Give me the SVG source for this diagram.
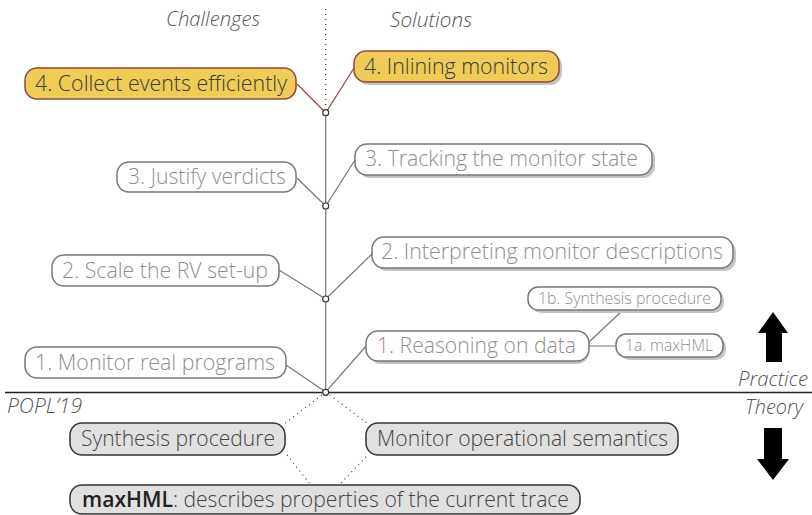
<svg xmlns="http://www.w3.org/2000/svg" width="812" height="515" viewBox="0 0 812 515">
<defs>
<style>
text{font-family:"Open Sans","DejaVu Sans",sans-serif;font-weight:300}
.hd{font-size:20px;font-style:italic;fill:#555}
.yb{fill:#eecc55;stroke:#8b4a3c;stroke-width:1.5}
.yt{font-size:22px;fill:#3a3a3a}
.gb{fill:#fff;stroke:#777;stroke-width:1.5}
.gt{font-size:22px;fill:#8f8f8f}
.st{font-size:16px;fill:#8f8f8f}
.bb{fill:#e0e0e0;stroke:#333;stroke-width:1.5}
.bt{font-size:22px;fill:#444}
.sh{fill:#c4c4c4}
.ln{stroke:#777;stroke-width:1.2;fill:none}
.br{stroke:#8b4a3c;stroke-width:1.2;fill:none}
.dt{stroke:#444;stroke-width:1.3;fill:none;stroke-dasharray:1 4}
.nd{fill:#fff;stroke:#333;stroke-width:1.2}
</style>
</defs>
<text class="hd" x="166" y="26" textLength="94" lengthAdjust="spacingAndGlyphs">Challenges</text>
<text class="hd" x="390" y="27" textLength="82" lengthAdjust="spacingAndGlyphs">Solutions</text>
<text class="hd" x="7" y="413" textLength="75" lengthAdjust="spacingAndGlyphs">POPL’19</text>
<text class="hd" x="738" y="386" textLength="70" lengthAdjust="spacingAndGlyphs">Practice</text>
<text class="hd" x="745" y="414" textLength="58" lengthAdjust="spacingAndGlyphs">Theory</text>
<line x1="5" y1="392.5" x2="812" y2="392.5" stroke="#222" stroke-width="1.3"/>
<path d="M766 362V333H758L773 312L788 333H782V362Z" fill="#000"/>
<path d="M764 428V459H757L773 480L789 459H782V428Z" fill="#000"/>
<g id="connectors">
<line class="dt" x1="325.7" y1="9" x2="325.7" y2="110"/>
<line class="ln" x1="325.7" y1="116" x2="325.7" y2="389"/>
<path class="br" d="M297 84L325.7 112.7L354 68"/>
<path class="ln" d="M297 178L325.7 206L355 160"/>
<path class="ln" d="M279 270L325.7 299L373 253"/>
<path class="ln" d="M286 365L325.7 392L367 345"/>
<path class="ln" d="M589 346H616M589 342L623 310"/>
<path class="dt" d="M325.7 392L284 424M287 455L310 484M325.7 392L367 423M366 457L340 484"/>
<circle class="nd" cx="325.7" cy="112.7" r="3"/>
<circle class="nd" cx="325.7" cy="206" r="3"/>
<circle class="nd" cx="325.7" cy="299" r="3"/>
<circle class="nd" cx="325.7" cy="392.3" r="3"/>
</g>
<g id="n4c"><rect class="yb" x="25" y="68" width="271" height="31" rx="12"/><text class="yt" x="35" y="91" textLength="252" lengthAdjust="spacingAndGlyphs">4. Collect events efficiently</text></g>
<g id="n4s"><rect class="sh" x="357" y="54" width="205" height="31" rx="12"/><rect class="yb" x="354" y="51" width="205" height="31" rx="12"/><text class="yt" x="364" y="74" textLength="184" lengthAdjust="spacingAndGlyphs">4. Inlining monitors</text></g>
<g id="n3c"><rect class="gb" x="117" y="162" width="179" height="30" rx="12"/><text class="gt" x="128" y="184" textLength="158" lengthAdjust="spacingAndGlyphs">3. Justify verdicts</text></g>
<g id="n3s"><rect class="sh" x="358" y="147" width="297" height="31" rx="12"/><rect class="gb" x="355" y="144" width="297" height="31" rx="12"/><text class="gt" x="365" y="166" textLength="273" lengthAdjust="spacingAndGlyphs">3. Tracking the monitor state</text></g>
<g id="n2c"><rect class="gb" x="52" y="255" width="227" height="31" rx="12"/><text class="gt" x="62" y="278" textLength="206" lengthAdjust="spacingAndGlyphs">2. Scale the RV set-up</text></g>
<g id="n2s"><rect class="sh" x="375" y="240" width="361" height="31" rx="12"/><rect class="gb" x="372" y="237" width="361" height="31" rx="12"/><text class="gt" x="381" y="259" textLength="342" lengthAdjust="spacingAndGlyphs">2. Interpreting monitor descriptions</text></g>
<g id="n1b"><rect class="sh" x="531" y="290" width="193" height="23" rx="10"/><rect class="gb" x="528" y="287" width="193" height="23" rx="10"/><text class="st" x="538" y="304" textLength="173" lengthAdjust="spacingAndGlyphs">1b. Synthesis procedure</text></g>
<g id="n1s"><rect class="sh" x="369" y="334" width="220" height="30" rx="12"/><rect class="gb" x="366" y="331" width="223" height="30" rx="12"/><text class="gt" x="377" y="353" textLength="199" lengthAdjust="spacingAndGlyphs">1. Reasoning on data</text></g>
<g id="n1a"><rect class="sh" x="619" y="337" width="107" height="23" rx="10"/><rect class="gb" x="616" y="334" width="107" height="23" rx="10"/><text class="st" x="625" y="351" textLength="88" lengthAdjust="spacingAndGlyphs">1a. maxHML</text></g>
<g id="n1c"><rect class="gb" x="25" y="347" width="261" height="31" rx="12"/><text class="gt" x="35" y="370" textLength="240" lengthAdjust="spacingAndGlyphs">1. Monitor real programs</text></g>
<g id="tsyn"><rect class="bb" x="70" y="423" width="215" height="32" rx="12"/><text class="bt" x="81" y="446" textLength="194" lengthAdjust="spacingAndGlyphs">Synthesis procedure</text></g>
<g id="tsem"><rect class="bb" x="366" y="423" width="312" height="32" rx="12"/><text class="bt" x="377" y="446" textLength="291" lengthAdjust="spacingAndGlyphs">Monitor operational semantics</text></g>
<g id="tmax"><rect class="bb" x="70" y="485" width="510" height="29" rx="12"/><text class="bt" x="82" y="507" textLength="487" lengthAdjust="spacingAndGlyphs"><tspan font-weight="600" fill="#222">maxHML</tspan>: describes properties of the current trace</text></g>
</svg>
